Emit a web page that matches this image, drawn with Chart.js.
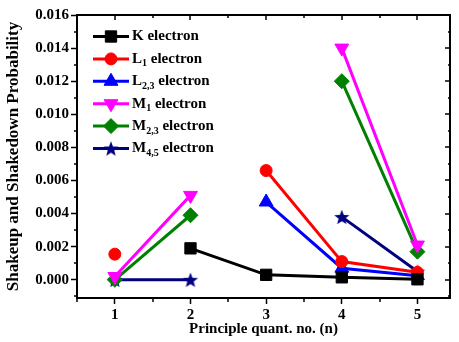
<!DOCTYPE html>
<html>
<head>
<meta charset="utf-8">
<script src="https://cdn.jsdelivr.net/npm/chart.js@4.4.1/dist/chart.umd.min.js"></script>
<style>
  body { margin: 0; background: #fff; }
  #box { width: 459px; height: 342px; }
</style>
</head>
<body>
<div id="box"><canvas id="grafico"></canvas></div>
<script>
// valori (null = punto mancante)
const nValues = [1, 2, 3, 4, 5];
const kElectron = [null, 0.0019, 0.0003, 0.00015, 0.00003];
const l1Electron = [0.00155, null, 0.0066, 0.0011, 0.00045];
const l23Electron = [null, null, 0.0047, 0.0007, 0.00025];
const m1Electron = [0.0002, 0.0051, null, 0.014, 0.0021];
const m23Electron = [0.0, 0.0039, null, 0.012, 0.0017];
const m45Electron = [0.0, 0.0, null, 0.0038, 0.0005];

// nome + pedice per la legenda
const seriesNames = [["K", ""], ["L", "1"], ["L", "2,3"], ["M", "1"], ["M", "2,3"], ["M", "4,5"]];
const seriesColors = ["#000000", "#ff0000", "#0000ff", "#ff00ff", "#008000", "#000080"];

const FONT = "'Liberation Serif', 'Times New Roman', serif";

// stella piena (quella di Chart.js e' solo un asterisco)
function makeStar(color, R) {
    const c = document.createElement("canvas");
    const s = Math.ceil(R * 2 + 2);
    c.width = s; c.height = s;
    const g = c.getContext("2d");
    g.fillStyle = color;
    g.beginPath();
    for (let i = 0; i < 10; i++) {
        const r = i % 2 === 0 ? R : R * 0.42;
        const a = -Math.PI / 2 + i * Math.PI / 5;
        const px = s / 2 + r * Math.cos(a), py = s / 2 + r * Math.sin(a) + 0.8;
        if (i === 0) g.moveTo(px, py); else g.lineTo(px, py);
    }
    g.closePath();
    g.fill();
    return c;
}
const starImg = makeStar("#000080", 8);

const markers = [
    { pointStyle: "rect", radius: 8, rotation: 0 },
    { pointStyle: "circle", radius: 6, rotation: 0 },
    { pointStyle: "triangle", radius: 8, rotation: 0 },
    { pointStyle: "triangle", radius: 8, rotation: 180 },
    { pointStyle: "rectRot", radius: 7.5, rotation: 0 },
    { pointStyle: starImg, radius: 8, rotation: 0 }
];

function toPoints(arr) {
    return nValues.map((n, i) => ({ x: n, y: arr[i] }));
}

const allSeries = [kElectron, l1Electron, l23Electron, m1Electron, m23Electron, m45Electron];

const datasets = allSeries.map((arr, i) => ({
    label: seriesNames[i].join(""),
    data: toPoints(arr),
    borderColor: seriesColors[i],
    backgroundColor: seriesColors[i],
    borderWidth: 3,
    pointStyle: markers[i].pointStyle,
    pointRadius: markers[i].radius,
    pointRotation: markers[i].rotation,
    pointBorderWidth: 1,
    spanGaps: false,
    tension: 0
}));

// cornice sopra/destra, tacche minori e legenda dentro il grafico
const extrasPlugin = {
    id: "extras",
    afterDraw(chart) {
        const ctx = chart.ctx;
        const a = chart.chartArea;
        const xs = chart.scales.x, ys = chart.scales.y;
        ctx.save();
        ctx.strokeStyle = "#000";
        ctx.lineWidth = 2;
        ctx.beginPath();
        ctx.moveTo(a.left - 1, a.top);
        ctx.lineTo(a.right, a.top);
        ctx.lineTo(a.right, a.bottom + 1);
        ctx.stroke();

        ctx.lineWidth = 1.5;
        ctx.beginPath();
        // asse x: tacche
        for (let v = 0.5; v <= 5.43; v += 0.5) {
            const px = Math.round(xs.getPixelForValue(v));
            const major = Math.abs(v - Math.round(v)) < 1e-6;
            if (!major) {
                ctx.moveTo(px, a.bottom); ctx.lineTo(px, a.bottom + 4);
            }
            ctx.moveTo(px, a.top); ctx.lineTo(px, a.top + (major ? 5 : 3));
        }
        // asse y: tacche
        for (let k = -1; k <= 16; k++) {
            const v = k * 0.001;
            const py = Math.round(ys.getPixelForValue(v));
            const major = k % 2 === 0;
            if (!major) {
                ctx.moveTo(a.left, py); ctx.lineTo(a.left - 3, py);
            }
            ctx.moveTo(a.right, py); ctx.lineTo(a.right - (major ? 5 : 2), py);
        }
        ctx.stroke();

        // legenda
        const x0 = 93, x1 = 129, xm = 111, tx = 132;
        for (let i = 0; i < seriesNames.length; i++) {
            const y = 36.5 + i * 22.4;
            ctx.strokeStyle = seriesColors[i];
            ctx.fillStyle = seriesColors[i];
            ctx.lineWidth = 3;
            ctx.beginPath();
            ctx.moveTo(x0, y); ctx.lineTo(x1, y);
            ctx.stroke();
            ctx.lineWidth = 1;
            Chart.helpers.drawPoint(ctx, {
                pointStyle: markers[i].pointStyle,
                radius: markers[i].radius,
                rotation: markers[i].rotation,
                borderWidth: 1
            }, xm, y);

            ctx.fillStyle = "#000";
            ctx.textBaseline = "middle";
            ctx.textAlign = "left";
            ctx.font = "bold 15px " + FONT;
            let cx = tx;
            ctx.fillText(seriesNames[i][0], cx, y);
            cx += ctx.measureText(seriesNames[i][0]).width;
            if (seriesNames[i][1]) {
                ctx.font = "bold 10px " + FONT;
                ctx.fillText(seriesNames[i][1], cx, y + 5);
                cx += ctx.measureText(seriesNames[i][1]).width;
                ctx.font = "bold 15px " + FONT;
            }
            ctx.fillText(" electron", cx, y);
        }
        ctx.restore();
    }
};

const ctx = document.getElementById("grafico").getContext("2d");

const chart = new Chart(ctx, {
    type: "line",
    data: { datasets: datasets },
    plugins: [extrasPlugin],
    options: {
        responsive: true,
        maintainAspectRatio: false,
        animation: false,
        layout: { padding: { top: 15, right: 4, left: 0, bottom: 0 } },
        plugins: {
            legend: { display: false },
            tooltip: { enabled: false }
        },
        scales: {
            x: {
                type: "linear",
                min: 0.5,
                max: 5.43,
                afterFit: function (s) { s.height = 44; },
                border: { color: "#000", width: 2 },
                grid: { drawOnChartArea: false, color: "#000", tickLength: 6, tickWidth: 1.5 },
                ticks: {
                    stepSize: 1,
                    includeBounds: false,
                    color: "#000",
                    padding: 2,
                    font: { family: FONT, size: 15, weight: "bold" },
                    callback: v => String(v)
                },
                title: {
                    display: true,
                    text: "Principle quant. no. (n)",
                    color: "#000",
                    padding: { top: 0, bottom: 4 },
                    font: { family: FONT, size: 15, weight: "bold" }
                }
            },
            y: {
                min: -0.0011,
                max: 0.016,
                afterFit: function (s) { s.width = 77; },
                border: { color: "#000", width: 2 },
                grid: { drawOnChartArea: false, color: "#000", tickLength: 6, tickWidth: 1.5 },
                ticks: {
                    stepSize: 0.002,
                    includeBounds: false,
                    color: "#000",
                    padding: 2,
                    font: { family: FONT, size: 15, weight: "bold" },
                    callback: v => v.toFixed(3)
                },
                title: {
                    display: true,
                    text: "Shakeup and Shakedown Probability",
                    color: "#000",
                    padding: { top: 3, bottom: 0 },
                    font: { family: FONT, size: 17, weight: "bold" }
                }
            }
        }
    }
});
</script>
</body>
</html>
